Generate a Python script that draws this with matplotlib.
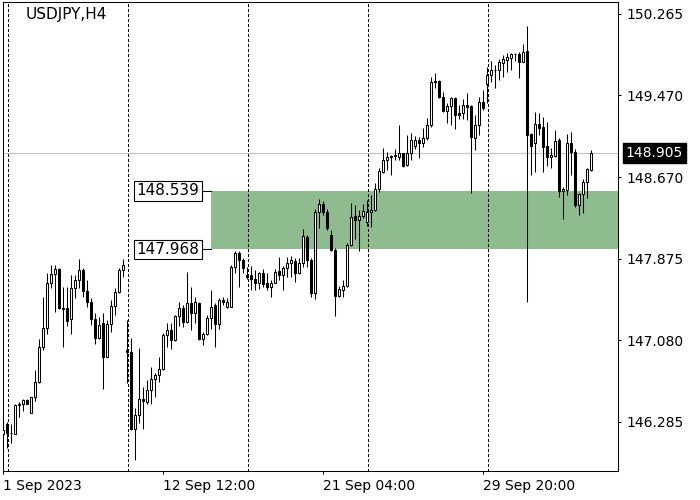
import matplotlib
matplotlib.use('Agg')
import matplotlib.pyplot as plt
import matplotlib.transforms as mtransforms
import numpy as np
import pandas as pd

# USDJPY H4 candles, first bar Fri 1 Sep 2023 20:00
opens = [146.169, 146.264, 146.179, 146.166, 146.449, 146.459, 146.498, 146.374, 146.524, 146.677,
         147.011, 147.197, 147.636, 147.727, 147.772, 147.392, 147.392, 147.285, 147.587, 147.668,
         147.766, 147.564, 147.457, 147.285, 147.099, 147.246, 146.914, 147.239, 147.415, 147.555,
         147.766, 146.986, 146.963, 146.212, 146.352, 146.505, 146.482, 146.596, 146.700, 146.742,
         146.797, 147.132, 147.181, 147.083, 147.318, 147.392, 147.262, 147.448, 147.350, 147.441,
         147.090, 147.139, 147.295, 147.425, 147.240, 147.474, 147.410, 147.402, 147.792, 147.935,
         147.864, 147.717, 147.717, 147.675, 147.636, 147.734, 147.636, 147.603, 147.642, 147.760,
         147.717, 147.782, 147.831, 147.857, 147.740, 147.838, 148.085, 147.864, 147.545, 148.335,
         148.410, 148.335, 148.107, 147.961, 147.512, 147.571, 147.610, 148.010, 148.293, 148.254,
         148.293, 148.238, 148.329, 148.352, 148.553, 148.726, 148.839, 148.872, 148.882, 148.872,
         148.905, 148.791, 148.911, 148.976, 149.035, 149.009, 149.051, 149.181, 149.613, 149.613,
         149.451, 149.321, 149.366, 149.441, 149.301, 149.295, 149.376, 149.366, 149.051, 149.181,
         149.409, 149.581, 149.668, 149.717, 149.717, 149.789, 149.815, 149.831, 149.873, 149.873,
         149.799, 149.906, 149.093, 149.002, 149.190, 149.165, 148.976, 148.865, 148.878, 149.035,
         148.540, 148.546, 149.002, 148.921, 148.400, 148.508, 148.628, 148.742]
highs = [146.287, 146.287, 146.264, 146.459, 146.481, 146.507, 146.504, 146.530, 146.790, 147.090,
         147.506, 147.733, 147.815, 147.815, 147.782, 147.603, 147.603, 147.717, 147.717, 147.870,
         147.782, 147.668, 147.489, 147.343, 147.311, 147.343, 147.278, 147.473, 147.587, 147.782,
         147.870, 147.279, 147.100, 146.417, 147.002, 146.628, 146.693, 146.823, 146.758, 146.914,
         147.150, 147.253, 147.246, 147.327, 147.457, 147.425, 147.750, 147.604, 147.506, 147.457,
         147.160, 147.327, 147.571, 147.441, 147.490, 147.506, 147.490, 147.814, 147.955, 147.955,
         147.880, 147.799, 147.805, 147.766, 147.750, 147.773, 147.734, 147.668, 147.773, 147.890,
         147.805, 147.890, 147.903, 147.880, 147.880, 148.163, 148.107, 147.880, 148.358, 148.455,
         148.442, 148.358, 148.160, 147.977, 147.610, 147.668, 148.026, 148.423, 148.400, 148.351,
         148.410, 148.450, 148.498, 148.612, 148.758, 148.953, 148.921, 148.888, 148.944, 149.181,
         148.911, 149.083, 149.100, 149.074, 149.061, 149.148, 149.246, 149.652, 149.691, 149.620,
         149.506, 149.399, 149.457, 149.451, 149.376, 149.431, 149.490, 149.376, 149.278, 149.451,
         149.522, 149.750, 149.808, 149.766, 149.821, 149.864, 149.880, 149.880, 149.886, 149.896,
         149.971, 150.146, 149.099, 149.311, 149.301, 149.262, 149.213, 148.953, 149.132, 149.051,
         148.579, 149.093, 149.116, 148.950, 148.514, 148.651, 148.758, 148.937]
lows = [146.082, 146.026, 146.082, 146.166, 146.329, 146.394, 146.459, 146.374, 146.491, 146.667,
        146.986, 147.142, 147.587, 147.359, 147.382, 147.018, 147.220, 147.142, 147.489, 147.587,
        147.506, 147.408, 147.229, 147.044, 147.090, 146.602, 146.914, 147.164, 147.327, 147.538,
        147.701, 146.661, 146.206, 145.913, 146.277, 146.212, 146.459, 146.459, 146.531, 146.677,
        146.791, 147.012, 146.992, 147.077, 147.220, 147.207, 147.246, 147.181, 147.253, 147.083,
        147.035, 147.132, 147.188, 147.018, 147.188, 147.425, 147.400, 147.402, 147.734, 147.604,
        147.734, 147.680, 147.571, 147.571, 147.577, 147.603, 147.571, 147.506, 147.636, 147.668,
        147.571, 147.701, 147.701, 147.652, 147.727, 147.799, 147.792, 147.499, 147.480, 148.173,
        148.303, 148.156, 147.955, 147.317, 147.499, 147.506, 147.603, 148.000, 148.065, 147.955,
        148.270, 148.200, 148.189, 148.345, 148.530, 148.709, 148.742, 148.693, 148.839, 148.839,
        148.774, 148.781, 148.839, 148.944, 148.856, 148.963, 149.035, 149.165, 149.539, 149.441,
        149.311, 149.197, 149.181, 149.139, 149.236, 149.236, 149.230, 148.521, 148.937, 149.083,
        149.327, 149.400, 149.603, 149.538, 149.620, 149.652, 149.701, 149.717, 149.808, 149.636,
        149.799, 147.457, 148.693, 148.726, 149.083, 148.726, 148.781, 148.758, 148.872, 148.482,
        148.261, 148.498, 148.693, 148.384, 148.303, 148.319, 148.465, 148.735]
closes = [146.202, 146.179, 146.175, 146.449, 146.455, 146.498, 146.459, 146.524, 146.677, 147.011,
          147.197, 147.636, 147.727, 147.772, 147.392, 147.390, 147.272, 147.587, 147.668, 147.766,
          147.564, 147.457, 147.285, 147.099, 147.229, 146.920, 147.239, 147.415, 147.555, 147.766,
          147.815, 146.963, 146.212, 146.352, 146.505, 146.485, 146.596, 146.700, 146.742, 146.797,
          147.132, 147.181, 147.083, 147.318, 147.392, 147.262, 147.448, 147.350, 147.457, 147.090,
          147.142, 147.295, 147.409, 147.240, 147.474, 147.457, 147.457, 147.792, 147.935, 147.864,
          147.783, 147.701, 147.675, 147.636, 147.734, 147.629, 147.603, 147.642, 147.750, 147.717,
          147.782, 147.831, 147.864, 147.740, 147.838, 148.098, 147.864, 147.545, 148.335, 148.410,
          148.335, 148.173, 147.961, 147.512, 147.577, 147.610, 148.010, 148.286, 148.254, 148.293,
          148.345, 148.329, 148.352, 148.553, 148.735, 148.839, 148.872, 148.882, 148.880, 148.905,
          148.781, 148.911, 149.035, 149.035, 149.009, 149.051, 149.181, 149.604, 149.604, 149.451,
          149.321, 149.366, 149.441, 149.279, 149.279, 149.376, 149.353, 149.061, 149.181, 149.409,
          149.344, 149.668, 149.717, 149.720, 149.799, 149.821, 149.847, 149.873, 149.873, 149.799,
          149.890, 149.083, 148.976, 149.190, 149.148, 148.969, 148.865, 148.888, 149.028, 148.540,
          148.553, 149.002, 148.921, 148.400, 148.508, 148.628, 148.748, 148.905]

symbol = 'USDJPY,H4'
current_price = 148.905
zone_high = 148.539
zone_low = 147.968
zone_start = '2023-09-14 12:00'
y_ticks = [150.265, 149.470, 148.670, 147.875, 147.080, 146.285]
x_label_times = ['2023-09-01 20:00', '2023-09-12 12:00', '2023-09-21 04:00', '2023-09-29 20:00']
x_label_texts = ['1 Sep 2023', '12 Sep 12:00', '21 Sep 04:00', '29 Sep 20:00']

# bar times (weekdays only, 4h bars)
rng = pd.date_range('2023-09-01 20:00', periods=400, freq='4h')
times = rng[rng.dayofweek < 5][:len(opens)]
pos = {t: i for i, t in enumerate(times)}

o = np.array(opens)
h = np.array(highs)
l = np.array(lows)
c = np.array(closes)
x = np.arange(len(o))
up = c >= o

fig = plt.figure(figsize=(7, 5), dpi=100)
ax = fig.add_axes([2.7 / 700, 1 - 470.7 / 500, 615.6 / 700, 468.4 / 500])

# zone
zs = pos[pd.Timestamp(zone_start)] - 0.1
ax.fill_between([zs, 160], zone_low, zone_high, color='#8FBC8F', linewidth=0, zorder=0)

# weekly separators
for i, t in enumerate(times):
    if t.dayofweek == 0 and t.hour == 0:
        ax.axvline(i + 0.1, color='black', linestyle=(0, (3, 3)), linewidth=0.7,
                   antialiased=False, zorder=1)

ax.axhline(current_price, color='#C0C0C0', linewidth=0.75, zorder=1)

# candles
ax.vlines(x, l, h, color='black', linewidth=0.75, zorder=2)
ax.bar(x, np.maximum(np.abs(c - o), 0.004), bottom=np.minimum(o, c), width=0.55,
       color=np.where(up, 'white', 'black'), edgecolor='black', linewidth=0.75, zorder=3)

# zone labels
for val in [zone_high, zone_low]:
    ax.plot([zs - 2.5, zs], [val, val], color='black', linewidth=0.75, zorder=4)
    ax.text(zs - 2.9, val, f'{val:.3f}', ha='right', va='center', fontsize=11, zorder=5,
            bbox=dict(boxstyle='square,pad=0.15', fc='white', ec='black', lw=0.8))

ax.set_xlim(-0.15, 153.75)
ax.set_ylim(145.808, 150.378)

ax.yaxis.tick_right()
ax.set_yticks(y_ticks)
ax.set_yticklabels([f'{v:.3f}' for v in y_ticks])
ax.set_xticks([pos[pd.Timestamp(t)] for t in x_label_times])
ax.set_xticklabels(x_label_texts, ha='left')
ax.tick_params(axis='both', direction='out', length=2.2, width=0.75, labelsize=10, colors='black')
ax.tick_params(axis='y', pad=3.9)
ax.tick_params(axis='x', pad=3.6)
for s in ax.spines.values():
    s.set_linewidth(0.75)
    s.set_color('black')

# current price tag
tr = mtransforms.blended_transform_factory(fig.transFigure, ax.transData)
ax.text(625.5 / 700, current_price, f'{current_price:.3f}', transform=tr, ha='left', va='center',
        fontsize=10, color='white', clip_on=False,
        bbox=dict(boxstyle='square,pad=0.2', fc='black', ec='black'))

fig.text(26 / 700, 1 - 15 / 500, symbol, fontsize=11, va='center', ha='left')

plt.savefig('out.png', dpi=100)
